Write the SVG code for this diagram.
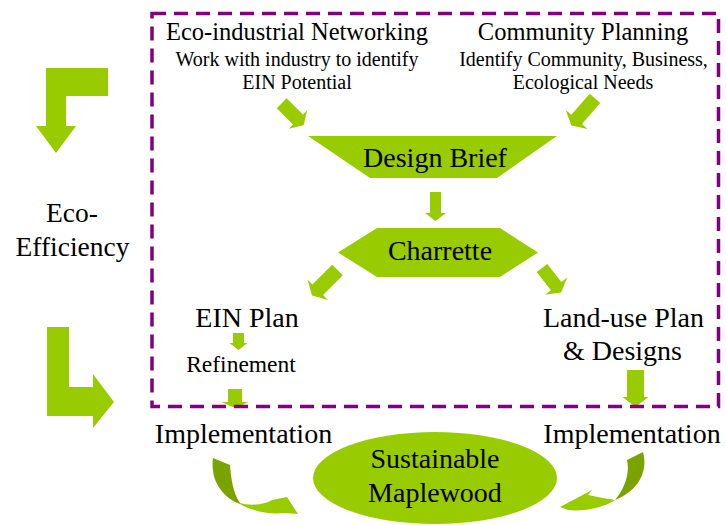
<svg xmlns="http://www.w3.org/2000/svg" width="726" height="525" viewBox="0 0 726 525">
<style>
  .g{fill:#99CC00}
  .t{font-family:"Liberation Serif","Times New Roman",serif;fill:#000;text-anchor:middle}
  .h{font-size:24.5px}
  .s{font-size:20px}
  .m{font-size:28px}
  .r{font-size:23.5px}
  .box{fill:none;stroke:#800080;stroke-width:3.5;stroke-dasharray:14 8}
</style>
<defs>
  <linearGradient id="gl" gradientUnits="userSpaceOnUse" x1="210" y1="0" x2="300" y2="0">
    <stop offset="0" stop-color="#7AA300"/><stop offset="0.333" stop-color="#7AA300"/>
    <stop offset="0.333" stop-color="#99CC00"/><stop offset="1" stop-color="#99CC00"/>
  </linearGradient>
  <linearGradient id="gr" gradientUnits="userSpaceOnUse" x1="555" y1="0" x2="650" y2="0">
    <stop offset="0" stop-color="#99CC00"/><stop offset="0.632" stop-color="#99CC00"/>
    <stop offset="0.632" stop-color="#7AA300"/><stop offset="1" stop-color="#7AA300"/>
  </linearGradient>
</defs>
<rect width="726" height="525" fill="#fff"/>

<g id="connectors">
  <polygon class="g" points="108,68 108,96 66,96 66,126 76,126 56,153 36,126 46,126 46,68"/>
  <polygon class="g" points="47,327 69,327 69,387 93,387 93,374 114,402 93,428 93,416 47,416"/>
  <polygon class="g" transform="translate(281.7,103.3) rotate(45)" points="0,-7 23,-7 23,-13 31,0 23,13 23,7 0,7"/>
  <polygon class="g" transform="translate(595,98.3) rotate(131)" points="0,-7 28,-7 28,-14.5 36,0 28,14.5 28,7 0,7"/>
  <polygon class="g" transform="translate(435.5,192) rotate(90)" points="0,-5.5 21,-5.5 21,-10.5 29,0 21,10.5 21,5.5 0,5.5"/>
  <polygon class="g" transform="translate(337.5,270) rotate(135)" points="0,-7.5 28,-7.5 28,-14.5 36,0 28,14.5 28,7.5 0,7.5"/>
  <polygon class="g" transform="translate(542,268) rotate(52)" points="0,-6.7 23,-6.7 23,-14 31,0 23,14 23,6.7 0,6.7"/>
  <polygon class="g" transform="translate(238.5,333) rotate(90)" points="0,-5.5 10,-5.5 10,-9 17,0 10,9 10,5.5 0,5.5"/>
  <polygon class="g" transform="translate(235,389) rotate(90)" points="0,-7 13,-7 13,-13.5 19,0 13,13.5 13,7 0,7"/>
  <polygon class="g" transform="translate(635.5,370) rotate(90)" points="0,-8.5 27,-8.5 27,-13 37,0 27,13 27,8.5 0,8.5"/>
  <path fill="url(#gl)" d="M213,458 L230,465 C231,478 233,493 240,503 C250,506 264,505 272,500 L287,497 L298,514 L284,513 C268,515 250,510 240,504 C222,497 210,480 213,458 Z"/>
  <path fill="url(#gr)" d="M643,452 C648,470 640,490 615,500 C605,507 585,512 568,510 L560,507 L592,490 L588,495 C598,497 608,499 615,500 C625,488 630,473 627,460 Z"/>
</g>

<rect id="boundary" class="box" x="152" y="13.5" width="566.5" height="393"/>

<g id="eco-efficiency">
  <text class="t" x="72" y="222" style="font-size:27.5px">Eco-</text>
  <text class="t" x="72.5" y="255.5" style="font-size:27.5px">Efficiency</text>
</g>

<g id="ein-networking">
  <text class="t h" x="297" y="40">Eco-industrial Networking</text>
  <text class="t s" x="297" y="66">Work with industry to identify</text>
  <text class="t s" x="297" y="89">EIN Potential</text>
</g>

<g id="community-planning">
  <text class="t h" x="583" y="40">Community Planning</text>
  <text class="t s" x="583.5" y="66">Identify Community, Business,</text>
  <text class="t s" x="583" y="89">Ecological Needs</text>
</g>

<g id="design-brief">
  <polygon class="g" points="308,136 557,136 497,178 370,178"/>
  <text class="t m" x="435" y="167">Design Brief</text>
</g>

<g id="charrette">
  <polygon class="g" points="377,228 500,228 538,252.5 500,277 377,277 338,252.5"/>
  <text class="t m" x="440" y="260">Charrette</text>
</g>

<g id="ein-plan">
  <text class="t m" x="247" y="327">EIN Plan</text>
</g>

<g id="refinement">
  <text class="t r" x="241" y="372">Refinement</text>
</g>

<g id="land-use-plan">
  <text class="t m" x="623.5" y="327">Land-use Plan</text>
  <text class="t m" x="622.5" y="360">&amp; Designs</text>
</g>

<g id="implementation-left">
  <text class="t m" x="243.5" y="443">Implementation</text>
</g>

<g id="implementation-right">
  <text class="t m" x="632" y="443">Implementation</text>
</g>

<g id="sustainable-maplewood">
  <ellipse class="g" cx="435" cy="478" rx="122" ry="46"/>
  <text class="t m" x="435" y="468">Sustainable</text>
  <text class="t m" x="435" y="502">Maplewood</text>
</g>
</svg>
